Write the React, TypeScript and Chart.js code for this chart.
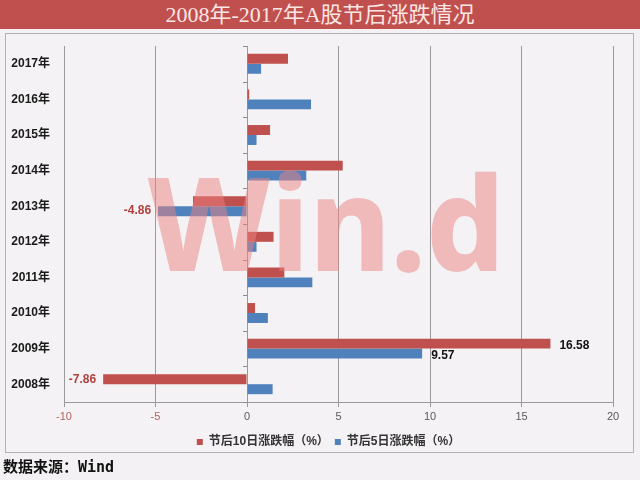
import React, { useEffect, useRef } from 'react';
import { Chart, registerables } from 'chart.js';

Chart.register(...registerables);

const titleText = '2008年-2017年A股节后涨跌情况';
const sourceText = '数据来源：Wind';
const categories = ['2017年', '2016年', '2015年', '2014年', '2013年', '2012年', '2011年', '2010年', '2009年', '2008年'];
const seriesNames = ['节后10日涨跌幅（%）', '节后5日涨跌幅（%）'];
const after10 = [2.24, 0.12, 1.26, 5.23, -2.95, 1.45, 2.04, 0.44, 16.58, -7.86];
const after5 = [0.77, 3.5, 0.52, 3.24, -4.86, 0.52, 3.57, 1.14, 9.57, 1.4];
const labeled10 = [false, false, false, false, false, false, false, false, true, true];
const labeled5 = [false, false, false, false, true, false, false, false, true, false];
const xMin = -10;
const xMax = 20;
const xStep = 5;
const watermarkText = 'Win.d';

const RED = '#c0504d';
const BLUE = '#4f81bd';

const zeroAxisPlugin = {
  id: 'zeroAxis',
  beforeDatasetsDraw(chart: any) {
    const { ctx, scales } = chart;
    const x0 = scales.x.getPixelForValue(0);
    const ys = scales.y;
    const n = categories.length;
    const half = (ys.getPixelForTick(1) - ys.getPixelForTick(0)) / 2;
    ctx.save();
    ctx.strokeStyle = '#8c8c8c';
    ctx.lineWidth = 1;
    ctx.beginPath();
    for (let i = 0; i <= n; i++) {
      const y = Math.round(ys.getPixelForTick(Math.min(i, n - 1)) + (i === n ? half : -half)) + 0.5;
      ctx.moveTo(x0 - 4, y);
      ctx.lineTo(x0, y);
    }
    ctx.stroke();
    ctx.restore();
  },
};

const legendShiftPlugin = {
  id: 'legendShift',
  afterLayout(chart: any) {
    const lg = chart.legend;
    if (!lg) return;
    const shift = 22;
    lg.left += shift;
    lg.right += shift;
  },
};

const watermarkPlugin = {
  id: 'watermark',
  afterDatasetsDraw(chart: any) {
    const { ctx, chartArea } = chart;
    const w = chartArea.right - chartArea.left;
    const h = chartArea.bottom - chartArea.top;
    const x0 = chartArea.left + 0.151 * w;
    const targetW = 0.652 * w;
    const baseline = chartArea.top + 0.633 * h;
    ctx.save();
    ctx.font = '800 130px "Noto Sans", "DejaVu Sans", sans-serif';
    ctx.textAlign = 'left';
    ctx.textBaseline = 'alphabetic';
    const m = ctx.measureText(watermarkText).width;
    ctx.translate(x0, baseline);
    ctx.scale(targetW / m, 1);
    ctx.fillStyle = 'rgba(235,129,129,0.5)';
    ctx.fillText(watermarkText, 0, 0);
    ctx.restore();
  },
};

const dataLabelPlugin = {
  id: 'dataLabels',
  afterDatasetsDraw(chart: any) {
    const { ctx } = chart;
    const flags = [labeled10, labeled5];
    ctx.save();
    ctx.font = 'bold 12px "Liberation Sans", "Noto Sans CJK SC", sans-serif';
    ctx.textBaseline = 'middle';
    chart.data.datasets.forEach((ds: any, di: number) => {
      const meta = chart.getDatasetMeta(di);
      meta.data.forEach((bar: any, i: number) => {
        if (!flags[di][i]) return;
        const v = ds.data[i];
        const txt = v.toFixed(2);
        if (v < 0) {
          ctx.fillStyle = '#b0403d';
          ctx.textAlign = 'right';
          ctx.fillText(txt, bar.x - 7, bar.y);
        } else {
          ctx.fillStyle = '#111111';
          ctx.textAlign = 'left';
          ctx.fillText(txt, bar.x + 9, bar.y + 2);
        }
      });
    });
    ctx.restore();
  },
};

export default function App() {
  const ref = useRef<HTMLCanvasElement | null>(null);

  useEffect(() => {
    if (!ref.current) return;
    const chart = new Chart(ref.current, {
      type: 'bar',
      data: {
        labels: categories,
        datasets: [
          {
            label: seriesNames[0],
            data: after10,
            backgroundColor: RED,
            borderWidth: 0,
            categoryPercentage: 0.56,
            barPercentage: 1,
          },
          {
            label: seriesNames[1],
            data: after5,
            backgroundColor: BLUE,
            borderWidth: 0,
            categoryPercentage: 0.56,
            barPercentage: 1,
          },
        ],
      },
      options: {
        indexAxis: 'y',
        animation: false,
        responsive: false,
        devicePixelRatio: 1,
        layout: { padding: { top: 46, right: 27, left: 0, bottom: 22 } },
        plugins: {
          title: { display: false },
          tooltip: { enabled: false },
          legend: {
            position: 'bottom',
            labels: {
              boxWidth: 6,
              boxHeight: 6,
              padding: 6,
              color: '#333333',
              font: { size: 12, weight: 'bold', family: '"Liberation Sans", "Noto Sans CJK SC", sans-serif' },
            },
          },
        },
        scales: {
          x: {
            type: 'linear',
            min: xMin,
            max: xMax,
            ticks: {
              stepSize: xStep,
              padding: 3,
              font: { size: 11, family: '"Liberation Sans", "Noto Sans CJK SC", sans-serif' },
              color: (c: any) => (c.tick && c.tick.value < 0 ? '#b5625f' : '#595959'),
            },
            grid: { color: '#9a9a9a', lineWidth: 1, tickLength: 5, drawTicks: true },
            border: { display: true, color: '#9a9a9a' },
            afterFit(scale: any) {
              scale.height = 28;
            },
          },
          y: {
            type: 'category',
            grid: { display: false, drawTicks: false },
            border: { display: false },
            ticks: {
              padding: 14,
              color: '#1a1a1a',
              font: { size: 12, weight: 'bold', family: '"Liberation Sans", "Noto Sans CJK SC", sans-serif' },
            },
            afterFit(scale: any) {
              scale.width = 64;
            },
          },
        },
      },
      plugins: [legendShiftPlugin, zeroAxisPlugin, watermarkPlugin, dataLabelPlugin],
    } as any);
    return () => chart.destroy();
  }, []);

  return (
    <div style={{ position: 'absolute', left: 0, top: 0, width: 640, height: 480, background: '#f3f1f3', overflow: 'hidden' }}>
      <div
        style={{
          position: 'absolute', left: 0, top: 0, width: 640, height: 29, background: RED,
          color: '#fce6e6', fontFamily: '"Liberation Serif", "Noto Sans CJK SC", serif', fontSize: 22,
          lineHeight: '29px', textAlign: 'center',
        }}
      >
        {titleText}
      </div>
      <div
        style={{
          position: 'absolute', left: 5, top: 33, width: 627, height: 418,
          border: '1px solid #b3b3b3', background: '#f4f2f4',
        }}
      />
      <canvas ref={ref} width={640} height={480} style={{ position: 'absolute', left: 0, top: 0, width: 640, height: 480 }} />
      <div
        style={{
          position: 'absolute', left: 3, top: 457, fontSize: 15, lineHeight: '20px', fontWeight: 'bold', color: '#111',
          fontFamily: '"DejaVu Sans Mono", "Noto Sans CJK SC", monospace',
        }}
      >
        {sourceText}
      </div>
    </div>
  );
}
